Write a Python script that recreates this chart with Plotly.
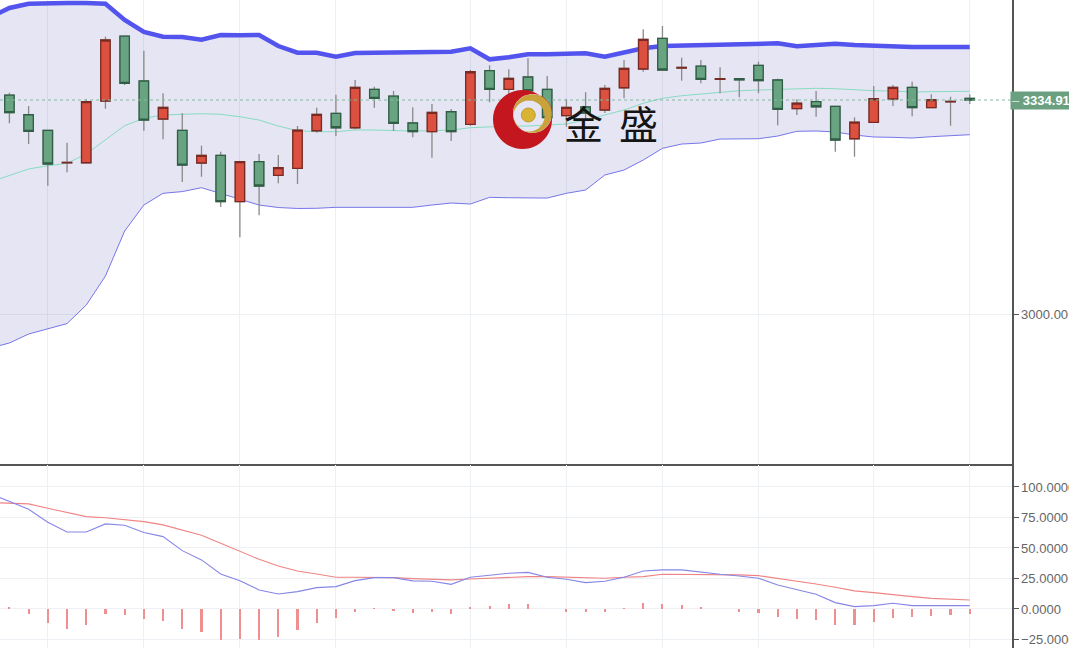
import plotly.graph_objects as go

# ---------------- data ----------------
open_ = [3342.7, 3311.9, 3287.6, 3236.9, 3236.9, 3333.4, 3434.9, 3364.6, 3305.2, 3287.6,
         3236.5, 3248.5, 3176.0, 3238.5, 3217.2, 3228.2, 3286.9, 3314.1, 3291.6, 3351.6,
         3341.1, 3299.0, 3285.4, 3316.6, 3296.9, 3380.7, 3351.6, 3370.9, 3351.6, 3310.4,
         3324.0, 3319.3, 3354.1, 3383.4, 3431.3, 3384.9, 3388.0, 3367.3, 3368.2, 3389.1,
         3366.2, 3321.3, 3332.3, 3325.1, 3274.4, 3300.0, 3336.5, 3354.8, 3322.9, 3331.9,
         3337.5]
high = [3346.3, 3325.5, 3288.0, 3268.2, 3336.0, 3433.8, 3435.5, 3411.9, 3345.4, 3314.1,
        3263.5, 3254.1, 3239.0, 3250.5, 3249.0, 3294.3, 3322.9, 3343.2, 3366.2, 3355.7,
        3349.0, 3323.5, 3328.6, 3320.9, 3381.8, 3389.1, 3382.9, 3400.1, 3372.4, 3336.5,
        3347.0, 3358.4, 3397.4, 3445.4, 3450.6, 3401.0, 3397.4, 3386.0, 3368.8, 3394.8,
        3368.2, 3336.0, 3349.0, 3325.5, 3307.9, 3356.8, 3358.4, 3363.5, 3343.8, 3340.1,
        3343.8]
low = [3298.5, 3266.2, 3201.0, 3221.9, 3236.0, 3321.3, 3358.4, 3286.9, 3273.5, 3206.8,
       3215.0, 3167.7, 3120.3, 3154.7, 3204.7, 3203.6, 3283.8, 3278.7, 3289.1, 3322.9,
       3286.5, 3276.6, 3244.7, 3270.8, 3294.8, 3331.3, 3340.1, 3334.9, 3299.0, 3293.2,
       3303.6, 3314.6, 3337.6, 3379.1, 3381.0, 3365.1, 3361.0, 3345.4, 3339.1, 3345.4,
       3295.4, 3311.5, 3308.8, 3254.1, 3246.3, 3299.5, 3325.5, 3309.4, 3322.5, 3294.8,
       3328.7]
close = [3315.1, 3286.0, 3234.9, 3237.6, 3332.3, 3428.7, 3361.0, 3303.6, 3323.5, 3233.3,
         3248.5, 3176.0, 3238.5, 3200.5, 3229.1, 3288.0, 3312.6, 3291.6, 3354.8, 3337.6,
         3298.5, 3285.4, 3315.7, 3285.4, 3379.1, 3351.6, 3368.8, 3349.4, 3307.3, 3323.5,
         3314.6, 3353.2, 3384.5, 3429.8, 3381.8, 3385.7, 3367.3, 3368.1, 3366.6, 3365.1,
         3320.4, 3330.2, 3324.4, 3272.4, 3300.5, 3336.9, 3354.8, 3322.9, 3335.4, 3332.6,
         3334.91]

# Bollinger bands (first value is the bar just left of the visible window)
bb_upper = [3464.6, 3478.7, 3485.4, 3486.5, 3486.5, 3486.5, 3485.4, 3459.9, 3441.2, 3433.8,
            3433.4, 3429.2, 3436.5, 3436.0, 3436.5, 3419.3, 3408.8, 3408.8, 3402.6, 3408.4,
            3408.8, 3407.9, 3407.9, 3409.9, 3410.4, 3415.7, 3398.5, 3401.6, 3406.3, 3406.3,
            3407.9, 3407.9, 3402.6, 3408.8, 3415.7, 3419.3, 3420.1, 3420.9, 3422.4, 3422.9,
            3423.5, 3423.5, 3418.8, 3420.9, 3422.9, 3420.9, 3419.3, 3418.2, 3417.7, 3417.7,
            3417.7, 3417.7]
bb_mid = [3206.8, 3216.9, 3227.1, 3232.2, 3236.0, 3250.5, 3272.4, 3294.8, 3306.3, 3311.5,
          3312.6, 3313.5, 3312.6, 3308.8, 3303.6, 3294.3, 3286.9, 3285.4, 3285.4, 3288.0,
          3288.0, 3286.9, 3286.5, 3286.9, 3288.0, 3291.6, 3293.2, 3294.3, 3294.3, 3295.8,
          3297.4, 3303.6, 3311.5, 3319.3, 3329.8, 3337.6, 3341.6, 3344.3, 3347.4, 3349.4,
          3350.5, 3351.6, 3353.2, 3353.2, 3352.6, 3350.5, 3349.4, 3349.0, 3347.4, 3347.9,
          3348.5, 3348.5]
bb_lower = [2947.3, 2955.2, 2969.2, 2977.0, 2985.5, 3014.5, 3059.9, 3130.2, 3170.8, 3189.1,
            3191.8, 3197.9, 3189.1, 3179.4, 3170.8, 3166.9, 3165.4, 3165.7, 3167.2, 3167.2,
            3167.2, 3167.2, 3167.2, 3170.8, 3173.9, 3172.4, 3182.8, 3182.2, 3181.7, 3181.7,
            3189.1, 3194.3, 3217.7, 3225.5, 3241.1, 3259.4, 3266.1, 3267.7, 3273.9, 3273.9,
            3274.4, 3278.6, 3286.0, 3286.5, 3284.9, 3280.2, 3277.1, 3276.6, 3275.5, 3277.6,
            3279.7, 3280.7]

# lower oscillator panel
osc_fast = [94.5, 88.0, 81.7, 71.1, 63.1, 63.1, 69.7, 68.6, 62.6, 59.3,
            47.8, 40.2, 28.7, 23.2, 15.6, 12.3, 14.2, 17.5, 18.3, 23.2,
            25.7, 25.7, 23.0, 22.7, 20.2, 26.0, 27.9, 29.3, 30.0, 26.0,
            24.3, 21.6, 22.7, 26.0, 31.1, 32.0, 32.0, 30.1, 28.4, 27.0,
            25.2, 19.7, 15.6, 12.0, 5.2, 1.9, 2.7, 4.7, 2.7, 2.7,
            2.7, 2.7]
osc_slow = [87.2, 86.9, 86.1, 82.5, 79.0, 75.7, 74.8, 73.5, 71.6, 68.9,
            64.8, 60.4, 53.8, 47.0, 40.7, 35.2, 31.1, 28.7, 26.0, 26.0,
            26.0, 25.7, 24.9, 24.3, 23.8, 24.6, 25.2, 26.0, 26.5, 26.5,
            26.0, 25.2, 25.2, 26.0, 26.5, 28.4, 28.4, 28.4, 27.9, 27.9,
            27.3, 25.2, 23.2, 20.5, 17.8, 14.8, 13.4, 11.5, 10.1, 8.7,
            8.0, 7.4]
osc_hist = [2.0, -4.4, -11.2, -16.4, -12.8, -4.4, -4.6, -7.9, -9.6, -16.4,
            -19.1, -25.4, -24.3, -25.1, -23.2, -17.5, -11.2, -7.7, -2.2, 0.5,
            -1.4, -3.0, -2.2, -3.8, 1.9, 2.7, 4.1, 3.8, 0.3, -2.2,
            -2.7, -2.2, 1.0, 5.2, 4.1, 3.3, 1.6, 0.3, -2.2, -3.0,
            -6.3, -8.2, -9.0, -13.1, -13.1, -10.4, -7.1, -6.3, -5.7, -4.9,
            -4.1]

grid_bars = [2, 7, 12, 17, 24, 29, 34, 39, 45, 50]   # bars carrying a vertical gridline
price_ticks = [3000]
osc_ticks = [-25, 0, 25, 50, 75, 100]
logo_text = "金 盛"

assert len(open_) == len(high) == len(low) == len(close) == len(osc_hist) == 51
assert len(bb_upper) == len(bb_mid) == len(bb_lower) == len(osc_fast) == len(osc_slow) == 52

n = len(close)
xc = list(range(n))
xi = list(range(-1, n))

# ---------------- figure ----------------
W, H = 1069, 648
PLOT_W = 1012
TOP_SPLIT = (H - 464) / H
BOT_SPLIT = (H - 465) / H

GRID = "#edf1f5"
AX = "#555555"

fig = go.Figure()

# Bollinger band (fill + lines) on the base subplot
fig.add_trace(go.Scatter(x=xi, y=bb_lower, mode="lines",
                         line=dict(color="#7676ea", width=1), xaxis="x", yaxis="y"))
fig.add_trace(go.Scatter(x=xi, y=bb_upper, mode="lines", fill="tonexty",
                         fillcolor="rgba(0,0,140,0.10)",
                         line=dict(color="#5353ee", width=4.5), xaxis="x", yaxis="y"))
fig.add_trace(go.Scatter(x=xi, y=bb_mid, mode="lines",
                         line=dict(color="#88dcc2", width=1), xaxis="x", yaxis="y"))

# candles on an overlaid subplot so they sit above the band fill
body_hi = [max(o, c) for o, c in zip(open_, close)]
body_lo = [min(o, c) for o, c in zip(open_, close)]
UP_FILL, DN_FILL = "#dc5040", "#69a482"
fig.add_trace(go.Candlestick(x=xc, open=open_, high=high, low=low, close=close,
                             increasing=dict(line=dict(color="#8a8a8a", width=1.3), fillcolor=UP_FILL),
                             decreasing=dict(line=dict(color="#8a8a8a", width=1.3), fillcolor=DN_FILL),
                             xaxis="x", yaxis="y3"))
fig.add_trace(go.Candlestick(x=xc, open=open_, high=body_hi, low=body_lo, close=close,
                             increasing=dict(line=dict(color="#7a2a22", width=1.3), fillcolor=UP_FILL),
                             decreasing=dict(line=dict(color="#2f5e45", width=1.3), fillcolor=DN_FILL),
                             xaxis="x", yaxis="y3"))

# oscillator panel
fig.add_trace(go.Bar(x=xc, y=osc_hist, width=0.11, marker=dict(color="#f08f8f", line=dict(width=0)),
                     xaxis="x2", yaxis="y2"))
fig.add_trace(go.Scatter(x=xi, y=osc_slow, mode="lines", line=dict(color="#f08484", width=1.1),
                         xaxis="x2", yaxis="y2"))
fig.add_trace(go.Scatter(x=xi, y=osc_fast, mode="lines", line=dict(color="#8686e6", width=1.1),
                         xaxis="x2", yaxis="y2"))

XR = [-0.49, 52.2]
PR = [2766.1, 3491.2]

fig.update_layout(
    width=W, height=H,
    margin=dict(l=0, r=W - PLOT_W, t=0, b=0, autoexpand=False),
    paper_bgcolor="white", plot_bgcolor="white",
    showlegend=False, hovermode=False, dragmode=False,
    boxgap=0.3, bargap=0,
    font=dict(family="Arial, Liberation Sans, sans-serif", size=13, color="#666666"),
    xaxis=dict(domain=[0, 1], range=XR, anchor="y", tickvals=grid_bars, showticklabels=False,
               ticks="", showgrid=True, gridcolor=GRID, gridwidth=1, zeroline=False,
               showline=True, linecolor=AX, linewidth=2, rangeslider=dict(visible=False),
               automargin=False),
    yaxis=dict(domain=[TOP_SPLIT, 1], range=PR, side="right", anchor="x", tickvals=price_ticks,
               tickformat=".2f", ticks="outside", ticklen=5, tickcolor=AX, showgrid=True,
               gridcolor=GRID, zeroline=False, showline=True, linecolor=AX, linewidth=1.5,
               tickfont=dict(size=13, color="#666666"), automargin=False),
    yaxis3=dict(overlaying="y", range=PR, side="right", anchor="x", visible=False,
                automargin=False),
    xaxis2=dict(domain=[0, 1], range=XR, anchor="y2", matches="x", tickvals=grid_bars,
                showticklabels=False, ticks="", showgrid=True, gridcolor=GRID, zeroline=False,
                showline=False, rangeslider=dict(visible=False), automargin=False),
    yaxis2=dict(domain=[0, BOT_SPLIT], range=[-32.0, 118.0], side="right", anchor="x2",
                tickvals=osc_ticks, tickformat=".4f", ticks="outside", ticklen=5, tickcolor=AX,
                showgrid=True, gridcolor=GRID, zeroline=False, showline=True, linecolor=AX,
                linewidth=1.5, tickfont=dict(size=13, color="#666666"), automargin=False),
)

# helpers: pixel position -> paper coordinates (paper spans the plot area)
def px(x):
    return x / PLOT_W

def py(y):
    return 1 - y / H

# last-price dotted line and label
last = close[-1]
fig.add_shape(type="line", xref="paper", yref="y", x0=0, x1=1, y0=last, y1=last,
              line=dict(color="#86b9a0", width=1, dash="dot"), layer="above")
fig.add_annotation(xref="paper", yref="y", x=px(1010), y=last, xanchor="left", yanchor="middle",
                   text="<span style='color:#d5e6dc'>–</span> <b>%.2f</b>" % last,
                   showarrow=False, bgcolor="#6a9f80", borderpad=1,
                   font=dict(size=13, color="white", family="Arial, Liberation Sans, sans-serif"))

# ---------------- watermark logo ----------------
def circ(cx, cy, r):
    k = 0.5523 * r
    pts = [
        f"M{px(cx + r)},{py(cy)}",
        f"C{px(cx + r)},{py(cy + k)} {px(cx + k)},{py(cy + r)} {px(cx)},{py(cy + r)}",
        f"C{px(cx - k)},{py(cy + r)} {px(cx - r)},{py(cy + k)} {px(cx - r)},{py(cy)}",
        f"C{px(cx - r)},{py(cy - k)} {px(cx - k)},{py(cy - r)} {px(cx)},{py(cy - r)}",
        f"C{px(cx + k)},{py(cy - r)} {px(cx + r)},{py(cy - k)} {px(cx + r)},{py(cy)}Z",
    ]
    return " ".join(pts)

fig.add_shape(type="path", xref="paper", yref="paper", layer="above",
              path=circ(522.5, 119.5, 29.5) + " " + circ(532.5, 113.5, 19.5),
              fillcolor="#c4161e", fillrule="evenodd", line=dict(width=0))
fig.add_shape(type="path", xref="paper", yref="paper", layer="above",
              path=circ(532.5, 113.5, 19.3) + " " + circ(529.0, 116.0, 15.6),
              fillcolor="#c9a23c", fillrule="evenodd", line=dict(width=0))
fig.add_shape(type="circle", xref="paper", yref="paper", layer="above",
              x0=px(521.3), x1=px(535.3), y0=py(122), y1=py(108),
              fillcolor="#d8b334", line=dict(color="#b8901e", width=0.8))

for ch, cx in zip(logo_text.split(), [583.5, 638.5]):
    fig.add_annotation(xref="paper", yref="paper", x=px(cx), y=py(121.5), xanchor="center",
                       yanchor="middle", text=ch, showarrow=False,
                       font=dict(size=39, color="#151515", family="Noto Sans CJK SC"))

fig.write_html("out.html", config={"displayModeBar": False, "staticPlot": True},
               post_script="document.body.style.margin='0';")
